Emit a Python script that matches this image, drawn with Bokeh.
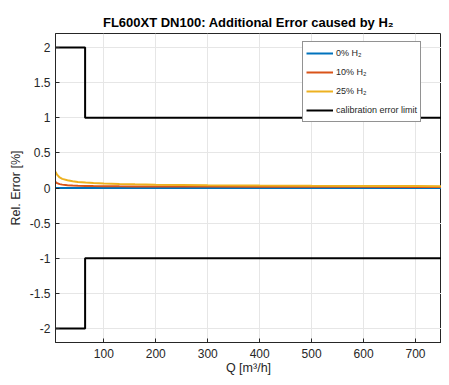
from bokeh.plotting import figure
from bokeh.models import Range1d, FixedTicker, Legend, LegendItem, PrintfTickFormatter
from bokeh.embed import file_html
from bokeh.resources import INLINE

# ---- data ----
q = [7, 10, 15, 20, 30, 40, 50, 65, 80, 100, 130, 160, 200, 250, 300, 400, 500, 600, 700, 763]
err_0 = [0.0] * len(q)
err_10 = [0.085, 0.07, 0.055, 0.048, 0.04, 0.036, 0.033, 0.03, 0.028, 0.026, 0.024, 0.023,
          0.022, 0.021, 0.02, 0.019, 0.018, 0.017, 0.016, 0.016]
err_25 = [0.23, 0.19, 0.15, 0.13, 0.11, 0.095, 0.085, 0.077, 0.07, 0.065, 0.058, 0.053,
          0.048, 0.044, 0.04, 0.035, 0.031, 0.029, 0.027, 0.026]
q_limit = [7, 64, 64, 763]
limit_upper = [2, 2, 1, 1]
limit_lower = [-2, -2, -1, -1]
x_ticks = [100, 200, 300, 400, 500, 600, 700]
y_ticks = [-2, -1.5, -1, -0.5, 0, 0.5, 1, 1.5, 2]

FONT = "Liberation Sans"
TXT = "#262626"

p = figure(width=441, height=377, output_backend="svg", toolbar_location=None,
           x_range=Range1d(7, 750), y_range=Range1d(-2.2, 2.2),
           min_border_left=55, min_border_right=0, min_border_top=33, min_border_bottom=34)

p.title.text = "FL600XT DN100: Additional Error caused by H\u2082"
p.title.text_font = FONT
p.title.text_font_size = "13px"
p.title.text_font_style = "bold"
p.title.text_color = "#000000"
p.title.align = "center"
p.title.offset = 0
p.title.standoff = 7

p.xaxis.axis_label = "Q [m\u00b3/h]"
p.yaxis.axis_label = "Rel. Error [%]"
for ax in (p.xaxis, p.yaxis):
    ax.axis_label_text_font = FONT
    ax.axis_label_text_font_size = "12.5px"
    ax.axis_label_text_font_style = "normal"
    ax.axis_label_text_color = TXT
    ax.major_label_text_font = FONT
    ax.major_label_text_font_size = "12px"
    ax.major_label_text_color = TXT
    ax.axis_line_color = TXT
    ax.major_tick_line_color = TXT
    ax.major_tick_in = 4
    ax.major_tick_out = 0
    ax.minor_tick_line_color = None
p.xaxis.ticker = FixedTicker(ticks=x_ticks)
p.yaxis.ticker = FixedTicker(ticks=y_ticks)
p.yaxis.formatter = PrintfTickFormatter(format="%g")
p.xaxis.major_label_standoff = 6
p.xaxis.axis_label_standoff = 0
p.yaxis.major_label_standoff = 5
p.yaxis.axis_label_standoff = 4

p.xgrid.ticker = FixedTicker(ticks=x_ticks)
p.ygrid.ticker = FixedTicker(ticks=y_ticks)
p.grid.grid_line_color = "#e6e6e6"
p.outline_line_color = TXT
p.outline_line_alpha = 1.0

l0 = p.line(q, err_0, line_color="#0072BD", line_width=2)
l10 = p.line(q, err_10, line_color="#D95319", line_width=2)
l25 = p.line(q, err_25, line_color="#EDB120", line_width=2)
lu = p.line(q_limit, limit_upper, line_color="#000000", line_width=2)
ll = p.line(q_limit, limit_lower, line_color="#000000", line_width=2)

legend = Legend(items=[
    LegendItem(label="0% H\u2082", renderers=[l0]),
    LegendItem(label="10% H\u2082", renderers=[l10]),
    LegendItem(label="25% H\u2082", renderers=[l25]),
    LegendItem(label="calibration error limit", renderers=[lu]),
], location=(247, 220))
legend.label_text_font = FONT
legend.label_text_font_size = "9px"
legend.label_text_color = TXT
legend.glyph_width = 27
legend.glyph_height = 16
legend.label_height = 16
legend.label_standoff = 3
legend.spacing = 3
legend.padding = 3
legend.margin = 0
legend.border_line_color = "#262626"
legend.border_line_width = 1
legend.background_fill_color = "white"
legend.background_fill_alpha = 1
p.add_layout(legend, "center")

open("out.html", "w").write(file_html(p, INLINE))
